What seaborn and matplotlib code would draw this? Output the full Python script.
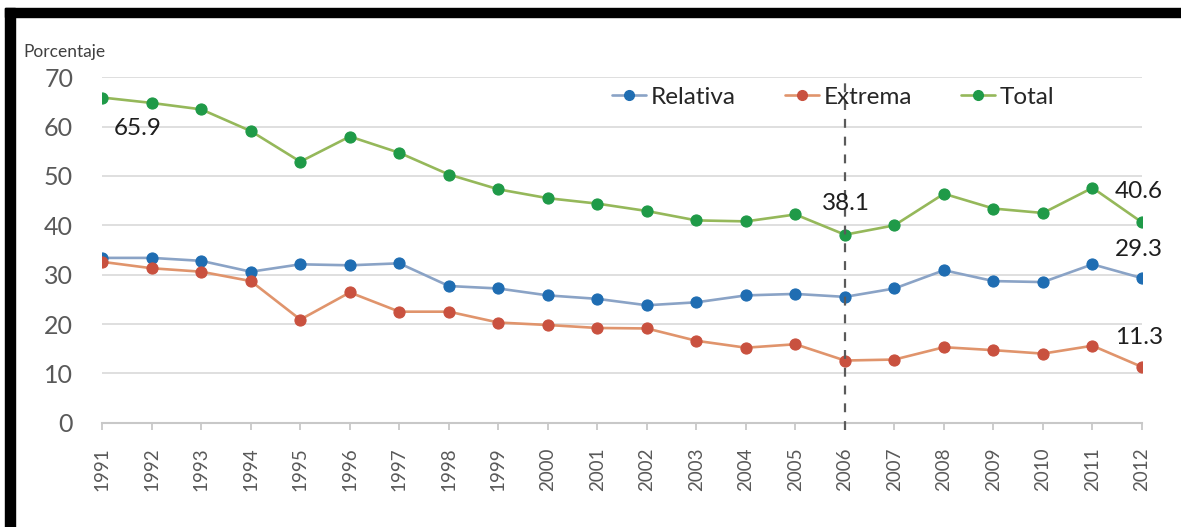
import matplotlib
matplotlib.use("Agg")
import matplotlib.pyplot as plt
from matplotlib.patches import Rectangle
from matplotlib.lines import Line2D
import seaborn as sns
import pandas as pd

years = list(range(1991, 2013))
relativa = [33.4, 33.4, 32.8, 30.6, 32.1, 31.9, 32.3, 27.7, 27.2, 25.8, 25.1,
            23.8, 24.4, 25.8, 26.1, 25.5, 27.2, 30.9, 28.7, 28.5, 32.1, 29.3]
extrema = [32.6, 31.3, 30.6, 28.7, 20.9, 26.4, 22.5, 22.5, 20.3, 19.8, 19.2,
           19.1, 16.6, 15.2, 15.9, 12.6, 12.8, 15.3, 14.7, 14.0, 15.6, 11.3]
total = [65.9, 64.8, 63.5, 59.1, 52.9, 58.0, 54.7, 50.3, 47.3, 45.5, 44.4,
         42.9, 41.0, 40.8, 42.2, 38.1, 40.0, 46.4, 43.4, 42.5, 47.6, 40.6]
series_names = ["Relativa", "Extrema", "Total"]
y_ticks = [0, 10, 20, 30, 40, 50, 60, 70]
y_label = "Porcentaje"

df = pd.DataFrame({
    "year": years * 3,
    "value": relativa + extrema + total,
    "serie": ["Relativa"] * 22 + ["Extrema"] * 22 + ["Total"] * 22,
})

line_colors = {"Relativa": "#8aa3c6", "Extrema": "#e0946c", "Total": "#95b85a"}
marker_colors = {"Relativa": "#1f6db2", "Extrema": "#c9513f", "Total": "#1f9a48"}

sns.set_theme(style="white")
plt.rcParams["font.family"] = ["Lato", "DejaVu Sans"]

W, H = 1181, 527
fig = plt.figure(figsize=(W / 100, H / 100), dpi=100)
fig.patch.set_facecolor("white")
ax = fig.add_axes([102.3 / W, 1 - 422.7 / H, (1142 - 102.3) / W, (422.7 - 77.3) / H])

for name in series_names:
    sub = df[df["serie"] == name]
    sns.lineplot(data=sub, x="year", y="value", ax=ax, color=line_colors[name],
                 linewidth=1.9, marker="o", markersize=8,
                 markerfacecolor=marker_colors[name],
                 markeredgecolor=marker_colors[name], markeredgewidth=0.8,
                 legend=False, zorder=3)

ax.set_xlim(1991, 2012)
ax.set_ylim(0, 70)
ax.set_yticks(y_ticks)
ax.set_xticks(years)
ax.set_xticklabels([str(y) for y in years], rotation=90)
ax.set_xlabel("")
ax.set_ylabel("")

for yv in y_ticks[1:]:
    ax.axhline(yv, color="#dcdcdc", linewidth=1.3, zorder=0)

for s in ["top", "right", "left"]:
    ax.spines[s].set_visible(False)
ax.spines["bottom"].set_color("#c8c8c8")
ax.spines["bottom"].set_linewidth(1.5)

ax.tick_params(axis="y", length=0, pad=21, labelsize=18, labelcolor="#595959")
ax.tick_params(axis="x", length=5, width=1.3, color="#c8c8c8", direction="out",
               pad=13, labelsize=13.5, labelcolor="#595959", bottom=True)

# dashed vertical marker at 2006
ax.plot([2006, 2006], [-1.5, 69.5], color="#5a5a5a", linewidth=1.6,
        linestyle=(0, (4, 4)), clip_on=False, zorder=4)

# value labels
ann = [
    (1991, 65.9, "65.9", "left", (7.9, -22.3)),
    (2006, 38.1, "38.1", "center", (0.7, 22.5)),
    (2012, 40.6, "40.6", "left", (-19.4, 22.0)),
    (2012, 29.3, "29.3", "left", (-19.4, 20.4)),
    (2012, 11.3, "11.3", "left", (-19.4, 21.5)),
]
for x, y, txt, ha, off in ann:
    ax.annotate(txt, xy=(x, y), xytext=off, textcoords="offset points",
                ha=ha, va="center", fontsize=17.5, color="#1e1e1e",
                annotation_clip=False, zorder=5)

handles = [Line2D([0], [0], color=line_colors[n], linewidth=1.9, marker="o",
                  markersize=7, markerfacecolor=marker_colors[n],
                  markeredgecolor=marker_colors[n]) for n in series_names]
leg = ax.legend(handles, series_names, loc="center left",
                bbox_to_anchor=(612 / W, 1 - 97 / H), bbox_transform=fig.transFigure,
                ncol=3, frameon=False, fontsize=17.5, handlelength=1.4,
                handletextpad=0.2, columnspacing=2.0, borderpad=0, borderaxespad=0)
for t in leg.get_texts():
    t.set_color("#262626")

fig.text(23 / W, 1 - 52 / H, y_label, fontsize=12.5, color="#404040",
         ha="left", va="center")

# black frame (top and left bars)
fig.patches.append(Rectangle((5 / W, 1 - 17 / H), 1 - 5 / W, 9 / H,
                             transform=fig.transFigure, color="black", zorder=10))
fig.patches.append(Rectangle((5 / W, 0), 10 / W, 1 - 8 / H,
                             transform=fig.transFigure, color="black", zorder=10))

fig.savefig("out.png", dpi=100, facecolor="white")
